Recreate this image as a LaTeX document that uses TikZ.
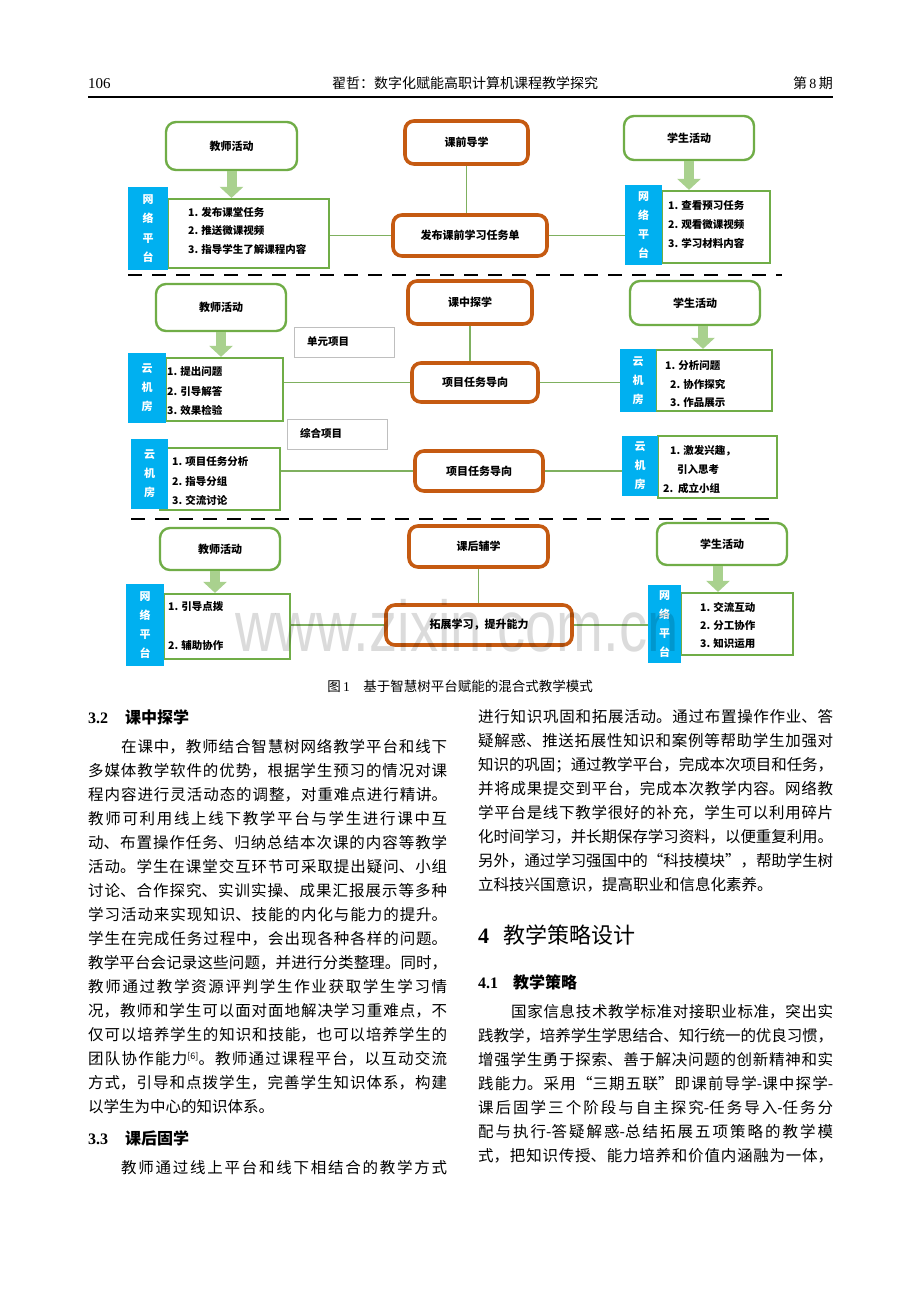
\documentclass[tikz,border=0pt]{standalone}
\usepackage{fontspec}
\setmainfont{Noto Sans CJK SC}
\newfontfamily\tnr{Liberation Serif}
\newfontfamily\lsans{Liberation Sans}
\usetikzlibrary{arrows.meta,calc}
\XeTeXlinebreaklocale "zh"
\XeTeXlinebreakskip=0pt plus 2pt minus 0.6pt
\definecolor{gbox}{HTML}{70AD47}
\definecolor{garrow}{HTML}{A9D18E}
\definecolor{obox}{HTML}{C55A11}
\definecolor{bbox}{HTML}{00B0F0}
\definecolor{glink}{HTML}{7FB05F}
\newcommand{\jl}[5]{\node[body] (#1) at (#2,#3) {\vbox{\hsize=#4pt\parindent=0pt\parfillskip=0pt\emergencystretch=20pt\noindent #5\par}};}
\newcommand{\nl}[4]{\node[body] (#1) at (#2,#3) {#4};}
\begin{document}
\begin{tikzpicture}[x=1pt,y=-1pt,
  gb/.style={draw=gbox, line width=2.4pt, rounded corners=10pt, fill=white, font=\bfseries\fontsize{11}{13}\selectfont},
  ob/.style={draw=obox, line width=3.6pt, rounded corners=9pt, fill=white, font=\bfseries\fontsize{11}{13}\selectfont},
  bb/.style={fill=bbox, text=white, align=center, inner sep=0pt, font=\bfseries\fontsize{11}{19.2}\selectfont},
  lb/.style={draw=gbox, line width=2.2pt, fill=white},
  gray box/.style={draw=black!25, line width=0.7pt, fill=white},
  item/.style={anchor=west, inner sep=0pt, font=\bfseries\fontsize{10.5}{12}\selectfont},
  link/.style={draw=glink, line width=1.8pt},
  barrow/.style={draw=garrow, line width=10pt, -{Triangle[width=23pt,length=11pt]}},
  dashline/.style={draw=black, line width=2.8pt, dash pattern=on 14pt off 10pt},
  body/.style={anchor=base west, inner sep=0pt, font=\fontsize{15.5}{18}\selectfont},
]
\useasboundingbox[fill=white] (0,0) rectangle (920,1302);

% ---------- header ----------
\node[anchor=base west, inner sep=0pt, font=\tnr\fontsize{15}{17}\selectfont] (pg) at (88,88) {106};
\node[anchor=base, inner sep=0pt, font=\fontsize{14}{16}\selectfont] (ttl) at (465,88) {翟哲：数字化赋能高职计算机课程教学探究};
\node[anchor=base east, inner sep=0pt, font=\fontsize{14}{16}\selectfont] (iss) at (833,88) {第\,{\tnr 8}\,期};
\coordinate (hl1) at (88,97);
\coordinate (hl2) at (833,97);
\draw[line width=1.3pt] (hl1) -- (hl2);

% ---------- dashed separators ----------
\coordinate (d1a) at (128,275); \coordinate (d1b) at (782,275);
\coordinate (d2a) at (131,519); \coordinate (d2b) at (771,519);
\draw[dashline] (d1a) -- (d1b);
\draw[dashline] (d2a) -- (d2b);

% ---------- section 1 ----------
\node[gb, minimum width=131pt, minimum height=48pt] (t1) at (231.5,146) {教师活动};
\node[ob, minimum width=123pt, minimum height=43pt] (c1) at (466.5,142.5) {课前导学};
\node[gb, minimum width=130pt, minimum height=44pt] (s1) at (689,138) {学生活动};
\node[lb, minimum width=161pt, minimum height=69pt] (l1) at (248.5,233.5) {};
\node[bb, minimum width=40pt, minimum height=83pt] (bl1) at (148,228.5) {网\\络\\平\\台};
\node[ob, minimum width=154pt, minimum height=41pt] (f1) at (470,235.5) {\raisebox{-3pt}{发布课前学习任务单}};
\node[lb, minimum width=108pt, minimum height=72pt] (r1) at (716,227) {};
\node[bb, minimum width=37pt, minimum height=80pt] (br1) at (643.5,225) {网\\络\\平\\台};
\node[item] (l1a) at (188,212) {1. 发布课堂任务};
\node[item] (l1b) at (188,230.5) {2. 推送微课视频};
\node[item] (l1c) at (188,249) {3. 指导学生了解课程内容};
\node[item] (r1a) at (668,206) {1. 查看预习任务};
\node[item] (r1b) at (668,224.5) {2. 观看微课视频};
\node[item] (r1c) at (668,243) {3. 学习材料内容};
\draw[link] (c1.south) -- (c1.south |- f1.north);
\draw[link] (f1.west -| l1.east) -- (f1.west);
\draw[link] (f1.east) -- (f1.east -| br1.west);
\draw[barrow] (t1.south) -- (t1.south |- l1.north);
\draw[barrow] (s1.south) -- (s1.south |- r1.north);

% ---------- section 2 ----------
\node[gb, minimum width=130pt, minimum height=47pt] (t2) at (221,307.5) {教师活动};
\node[ob, minimum width=124pt, minimum height=43pt] (c2) at (470,302.5) {课中探学};
\node[gb, minimum width=130pt, minimum height=44pt] (s2) at (695,303) {学生活动};
\node[gray box, minimum width=100pt, minimum height=30pt] (u1) at (344,342) {};
\node[item] (u1t) at (307,342) {单元项目};
\node[lb, minimum width=117pt, minimum height=63pt] (l2) at (224.5,389.5) {};
\node[bb, minimum width=38pt, minimum height=70pt] (bl2) at (147,388) {云\\机\\房};
\node[ob, minimum width=126pt, minimum height=39pt] (p1) at (475,382.5) {\raisebox{-3pt}{项目任务导向}};
\node[lb, minimum width=116pt, minimum height=61pt] (r2) at (714,380.5) {};
\node[bb, minimum width=36pt, minimum height=63pt] (br2) at (638,380.5) {云\\机\\房};
\node[item] (l2a) at (167,372) {1. 提出问题};
\node[item] (l2b) at (167,391) {2. 引导解答};
\node[item] (l2c) at (167,410) {3. 效果检验};
\node[item] (r2a) at (665,366) {1. 分析问题};
\node[item] (r2b) at (670,384.5) {2. 协作探究};
\node[item] (r2c) at (670,403) {3. 作品展示};
\node[gray box, minimum width=100pt, minimum height=30pt] (u2) at (337,434) {};
\node[item] (u2t) at (300,433) {综合项目};
\node[lb, minimum width=120pt, minimum height=62pt] (l3) at (220,479) {};
\node[bb, minimum width=37pt, minimum height=70pt] (bl3) at (149.5,474) {云\\机\\房};
\node[ob, minimum width=128pt, minimum height=40pt] (p2) at (479,471) {\raisebox{-3pt}{项目任务导向}};
\node[lb, minimum width=119pt, minimum height=62pt] (r3) at (717.5,467) {};
\node[bb, minimum width=36pt, minimum height=60pt] (br3) at (640,466) {云\\机\\房};
\node[item] (l3a) at (172,462) {1. 项目任务分析};
\node[item] (l3b) at (172,481) {2. 指导分组};
\node[item] (l3c) at (172,500) {3. 交流讨论};
\node[item] (r3a) at (670,451) {1. 激发兴趣，};
\node[item] (r3b) at (677,469) {引入思考};
\node[item] (r3c) at (663,488) {2.\ \ 成立小组};
\draw[link] (c2.south) -- (c2.south |- p1.north);
\draw[link] (p1.west -| l2.east) -- (p1.west);
\draw[link] (p1.east) -- (p1.east -| br2.west);
\draw[link] (p2.west -| l3.east) -- (p2.west);
\draw[link] (p2.east) -- (p2.east -| br3.west);
\draw[barrow] (t2.south) -- (t2.south |- l2.north);
\draw[barrow] ([xshift=8pt]s2.south) -- ([xshift=8pt]s2.south |- r2.north);

% ---------- section 3 ----------
\node[gb, minimum width=120pt, minimum height=42pt] (t3) at (220,549) {教师活动};
\node[ob, minimum width=139pt, minimum height=41pt] (c3) at (478.5,546.5) {课后辅学};
\node[gb, minimum width=130pt, minimum height=42pt] (s3) at (722,544) {学生活动};
\node[lb, minimum width=126pt, minimum height=65pt] (l4) at (227,626.5) {};
\node[bb, minimum width=38pt, minimum height=82pt] (bl4) at (145,625) {网\\络\\平\\台};
\node[ob, minimum width=186pt, minimum height=40pt] (e1) at (479,625) {\raisebox{-4pt}{拓展学习，提升能力}};
\node[lb, minimum width=112pt, minimum height=62pt] (r4) at (737,624) {};
\node[bb, minimum width=33pt, minimum height=78pt] (br4) at (664.5,624) {网\\络\\平\\台};
\node[item] (l4a) at (168,607) {1. 引导点拨};
\node[item] (l4b) at (168,645) {2. 辅助协作};
\node[item] (r4a) at (700,607) {1. 交流互动};
\node[item] (r4b) at (700,625.5) {2. 分工协作};
\node[item] (r4c) at (700,644) {3. 知识运用};
\draw[link] (c3.south) -- (c3.south |- e1.north);
\draw[link] (e1.west -| l4.east) -- (e1.west);
\draw[link] (e1.east) -- (e1.east -| br4.west);
\draw[barrow] ([xshift=-5pt]t3.south) -- ([xshift=-5pt]t3.south |- l4.north);
\draw[barrow] ([xshift=-4pt]s3.south) -- ([xshift=-4pt]s3.south |- r4.north);

% ---------- watermark (drawn over the figure, faint) ----------
\node[anchor=base, inner sep=0pt, text=black, text opacity=0.14, font=\lsans\fontsize{72}{80}\selectfont, xscale=0.78, transform shape] (wm) at (457,651) {www.zixin.com.cn};

% ---------- caption ----------
\node[anchor=base, inner sep=0pt, font=\fontsize{13.5}{15}\selectfont] (cap) at (460,691) {图\,{\tnr 1}\quad 基于智慧树平台赋能的混合式教学模式};

% ---------- left column ----------
\node[anchor=base west, inner sep=0pt, font=\tnr\bfseries\fontsize{16}{18}\selectfont] (h32n) at (88,723) {3.2};
\node[anchor=base west, inner sep=0pt, font=\bfseries\fontsize{16}{18}\selectfont] (h32) at (125,723) {课中探学};
\jl{a1}{121}{752}{326}{在课中，教师结合智慧树网络教学平台和线下}
\jl{a2}{88}{776}{359}{多媒体教学软件的优势，根据学生预习的情况对课}
\jl{a3}{88}{800}{359}{程内容进行灵活动态的调整，对重难点进行精讲。}
\jl{a4}{88}{824}{359}{教师可利用线上线下教学平台与学生进行课中互}
\jl{a5}{88}{848}{359}{动、布置操作任务、归纳总结本次课的内容等教学}
\jl{a6}{88}{872}{359}{活动。学生在课堂交互环节可采取提出疑问、小组}
\jl{a7}{88}{896}{359}{讨论、合作探究、实训实操、成果汇报展示等多种}
\jl{a8}{88}{920}{359}{学习活动来实现知识、技能的内化与能力的提升。}
\jl{a9}{88}{944}{359}{学生在完成任务过程中，会出现各种各样的问题。}
\jl{a10}{88}{968}{359}{教学平台会记录这些问题，并进行分类整理。同时，}
\jl{a11}{88}{992}{359}{教师通过教学资源评判学生作业获取学生学习情}
\jl{a12}{88}{1016}{359}{况，教师和学生可以面对面地解决学习重难点，不}
\jl{a13}{88}{1040}{359}{仅可以培养学生的知识和技能，也可以培养学生的}
\jl{a14}{88}{1064}{359}{团队协作能力\raisebox{5pt}{\fontsize{9}{10}\selectfont[6]}。教师通过课程平台，以互动交流}
\jl{a15}{88}{1088}{359}{方式，引导和点拨学生，完善学生知识体系，构建}
\nl{a16}{88}{1112}{以学生为中心的知识体系。}
\node[anchor=base west, inner sep=0pt, font=\tnr\bfseries\fontsize{16}{18}\selectfont] (h33n) at (88,1144) {3.3};
\node[anchor=base west, inner sep=0pt, font=\bfseries\fontsize{16}{18}\selectfont] (h33) at (125,1144) {课后固学};
\jl{a17}{121}{1173}{326}{教师通过线上平台和线下相结合的教学方式}

% ---------- right column ----------
\jl{b1}{478}{722}{355}{进行知识巩固和拓展活动。通过布置操作作业、答}
\jl{b2}{478}{746}{355}{疑解惑、推送拓展性知识和案例等帮助学生加强对}
\jl{b3}{478}{770}{355}{知识的巩固；通过教学平台，完成本次项目和任务，}
\jl{b4}{478}{794}{355}{并将成果提交到平台，完成本次教学内容。网络教}
\jl{b5}{478}{818}{355}{学平台是线下教学很好的补充，学生可以利用碎片}
\jl{b6}{478}{842}{355}{化时间学习，并长期保存学习资料，以便重复利用。}
\jl{b7}{478}{866}{355}{另外，通过学习强国中的“科技模块”，帮助学生树}
\nl{b8}{478}{890}{立科技兴国意识，提高职业和信息化素养。}
\node[anchor=base west, inner sep=0pt, font=\tnr\bfseries\fontsize{22}{24}\selectfont] (h4n) at (478,943) {4};
\node[anchor=base west, inner sep=0pt, font=\fontsize{22}{24}\selectfont] (h4) at (503,943) {教学策略设计};
\node[anchor=base west, inner sep=0pt, font=\tnr\bfseries\fontsize{16}{18}\selectfont] (h41n) at (478,988) {4.1};
\node[anchor=base west, inner sep=0pt, font=\bfseries\fontsize{16}{18}\selectfont] (h41) at (513,988) {教学策略};
\jl{b9}{511}{1017}{322}{国家信息技术教学标准对接职业标准，突出实}
\jl{b10}{478}{1041}{355}{践教学，培养学生学思结合、知行统一的优良习惯，}
\jl{b11}{478}{1065}{355}{增强学生勇于探索、善于解决问题的创新精神和实}
\jl{b12}{478}{1089}{355}{践能力。采用“三期五联”即课前导学-课中探学-}
\jl{b13}{478}{1113}{355}{课后固学三个阶段与自主探究-任务导入-任务分}
\jl{b14}{478}{1137}{355}{配与执行-答疑解惑-总结拓展五项策略的教学模}
\jl{b15}{478}{1161}{355}{式，把知识传授、能力培养和价值内涵融为一体，}
\end{tikzpicture}
\end{document}
